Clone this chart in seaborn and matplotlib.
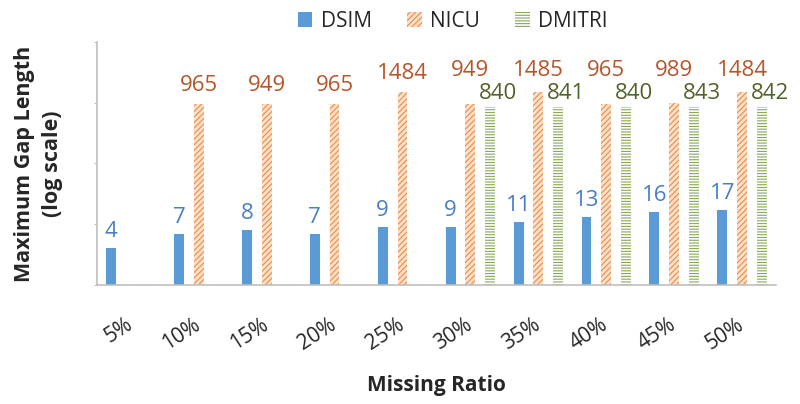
import numpy as np
import pandas as pd
import matplotlib.pyplot as plt
import seaborn as sns
from matplotlib.patches import Patch

# ── data ─────────────────────────────────────────────────────
ratios = ["5%", "10%", "15%", "20%", "25%", "30%", "35%", "40%", "45%", "50%"]
methods = ["DSIM", "NICU", "DMITRI"]
dsim = [4, 7, 8, 7, 9, 9, 11, 13, 16, 17]
nicu = [np.nan, 965, 949, 965, 1484, 949, 1485, 965, 989, 1484]
dmitri = [np.nan, np.nan, np.nan, np.nan, np.nan, 840, 841, 840, 843, 842]

df = pd.DataFrame({
    "Missing Ratio": ratios * 3,
    "Method": [m for m in methods for _ in ratios],
    "Gap": dsim + nicu + dmitri,
})

sns.set_style("white")
plt.rcParams["font.family"] = ["Open Sans", "DejaVu Sans"]
plt.rcParams["hatch.linewidth"] = 0.8

face = {"DSIM": "#5B9BD5", "NICU": "#FBE0CB", "DMITRI": "#FFFFFF"}
hatch_col = {"DSIM": "#5B9BD5", "NICU": "#EE8B45", "DMITRI": "#8AA65A"}
hatches = {"DSIM": "", "NICU": "//////", "DMITRI": "------"}
text_col = {"DSIM": "#4A7EC2", "NICU": "#B5562A", "DMITRI": "#4F6228"}

fig = plt.figure(figsize=(8, 4.04), dpi=100)
ax = fig.add_axes([0.121, 0.295, 0.849, 0.601])

sns.barplot(data=df, x="Missing Ratio", y="Gap", hue="Method", order=ratios,
            hue_order=methods, palette=face, width=0.87, gap=0.5,
            ax=ax, legend=False)

ax.set_yscale("log")
ax.set_ylim(1, 10000)
ax.set_xlim(-0.5, len(ratios) - 0.5)

# style bars and collect their tops per group
tops = {m: {} for m in methods}
for cont, m in zip(ax.containers, methods):
    for bar in cont:
        bar.set_facecolor(face[m])
        bar.set_edgecolor(hatch_col[m])
        bar.set_hatch(hatches[m])
        bar.set_linewidth(0)
        xc = bar.get_x() + bar.get_width() / 2
        tops[m][int(round(xc))] = (xc, bar.get_height())


def px(v):
    return ax.transData.transform((0, v))[1]


# value labels (offsets in pixels)
for m in methods:
    for g, (xc, h) in tops[m].items():
        dx, dy = 0, 6
        if m == "NICU":
            dy = 8
            if g in tops["DMITRI"]:
                dm_top = px(tops["DMITRI"][g][1]) + 3 + 16 + 7
                dy = max(dy, dm_top - px(h))
        elif m == "DMITRI":
            dx, dy = 8, 3
        ax.annotate(f"{int(h)}", (xc, h), xytext=(dx, dy),
                    textcoords="offset pixels", ha="center", va="bottom",
                    color=text_col[m], fontsize=16)

# axes styling
sns.despine(ax=ax)
for s in ["left", "bottom"]:
    ax.spines[s].set_color("#BFBFBF")
    ax.spines[s].set_linewidth(1.2)
ax.yaxis.set_minor_locator(plt.NullLocator())
ax.set_yticks([1, 10, 100, 1000, 10000])
ax.tick_params(axis="y", left=True, length=2, color="#BFBFBF", labelleft=False)
ax.tick_params(axis="x", bottom=False, pad=24)
for lbl in ax.get_xticklabels():
    lbl.set_rotation(33)
    lbl.set_ha("right")
    lbl.set_va("center")
    lbl.set_rotation_mode("anchor")
    lbl.set_fontsize(15)

ax.set_xlabel("Missing Ratio", fontsize=15, fontweight="bold", labelpad=15)
ax.set_ylabel("Maximum Gap Length\n(log scale)", fontsize=15.5,
              fontweight="bold", labelpad=22, linespacing=1.45)

handles = [Patch(facecolor=face[m], edgecolor=hatch_col[m], hatch=hatches[m],
                 linewidth=0, label=m) for m in methods]
fig.legend(handles=handles, loc="upper center", bbox_to_anchor=(0.566, 1.02),
           ncol=3, frameon=False, fontsize=15, handlelength=0.7,
           handleheight=0.7, handletextpad=0.4, columnspacing=1.7)

plt.savefig("out.png", dpi=100)
plt.close()
